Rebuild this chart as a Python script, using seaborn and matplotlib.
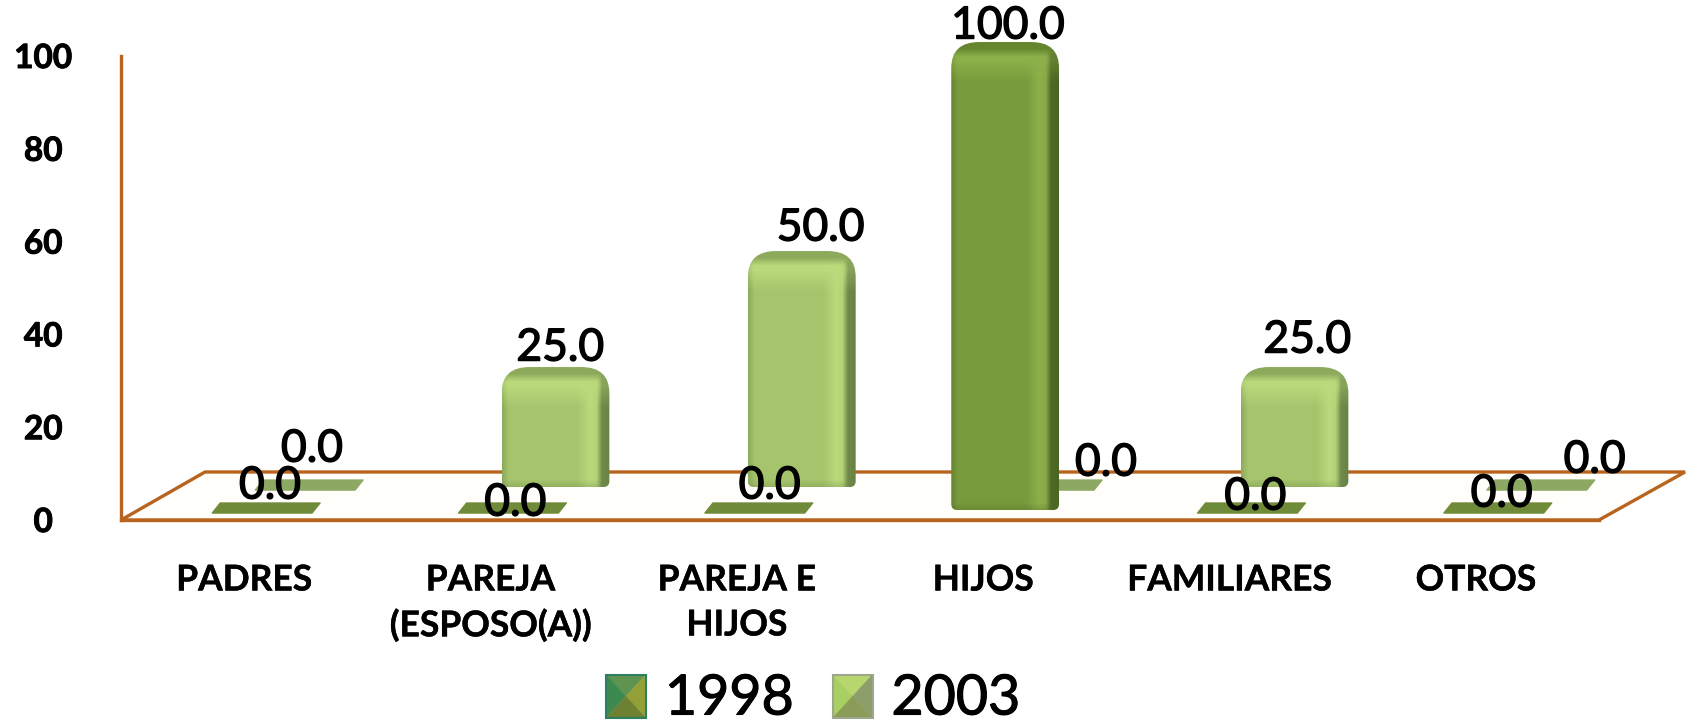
#!/usr/bin/env python3

import numpy as np
import pandas
import seaborn as sns
import matplotlib

matplotlib.use("Agg")
import matplotlib.pyplot as plt
import matplotlib.patheffects as pe
from matplotlib.colors import to_rgb
from matplotlib.legend_handler import HandlerBase
from matplotlib.patches import Patch, PathPatch, Polygon
from matplotlib.path import Path

categories = ["PADRES", "PAREJA\n(ESPOSO(A))", "PAREJA E\nHIJOS", "HIJOS", "FAMILIARES", "OTROS"]
values_1998 = [0.0, 0.0, 0.0, 100.0, 0.0, 0.0]
values_2003 = [0.0, 25.0, 50.0, 0.0, 25.0, 0.0]
years = ["1998", "2003"]
y_ticks = [0, 20, 40, 60, 80, 100]

FIG_W, FIG_H = 1691, 724
AX_L, AX_R, AX_TOP, AX_BOT = 121, 1599, 56, 520
PX_X = (AX_R - AX_L) / 6
PX_Y = (AX_BOT - AX_TOP) / 100
LINE = "#B8631E"

# Fake 3D depth: each series is pushed along the floor (dx in categories, dy in data)
SHIFT = {"1998": (0.308, 2.15), "2003": (0.045, 7.1)}
SHADES = {
    "1998": dict(base="#789A3C", light="#8DB04A", dark="#4F6A26", cap="#66852F", flat="#6F8A38"),
    "2003": dict(base="#A6C46C", light="#BBDA7C", dark="#6F8A4A", cap="#8CAA5C", flat="#8CA862"),
}
# Label nudges in pixels from the top of each bar (right, up)
NUDGE = {
    "1998": [(4, 24), (3, 7), (11, 24), (3, 20), (4, 13), (4, 16)],
    "2003": [(3, 38), (5, 23), (19, 27), (58, 24), (13, 31), (54, 27)],
}
PYRAMIDS = {
    "1998": ["#5F9450", "#3C8A50", "#93A038", "#6E8032", "#2E7F60"],
    "2003": ["#B8D66E", "#A9CE62", "#8E9E6A", "#8B9C58", "#9CA88C"],
}


def heavy(width):
    return [pe.withStroke(linewidth=width, foreground="black")]


class PyramidHandler(HandlerBase):
    """
    Legend key drawn as a small bevelled square
    """

    def __init__(self, colors):
        super().__init__()
        self.colors = colors

    def create_artists(self, legend, orig_handle, xdescent, ydescent, width, height, fontsize, trans):
        x0, y0, x1, y1 = -xdescent, -ydescent - 4, width - xdescent, height - ydescent + 2
        cx, cy = (x0 + x1) / 2, (y0 + y1) / 2
        faces = [
            [(x0, y1), (x1, y1), (cx, cy)],
            [(x0, y0), (x0, y1), (cx, cy)],
            [(x1, y0), (x1, y1), (cx, cy)],
            [(x0, y0), (x1, y0), (cx, cy)],
        ]
        artists = [Polygon(f, closed=True, fc=c, ec=c, lw=0.3, transform=trans) for f, c in zip(faces, self.colors)]
        border = Polygon([(x0, y0), (x1, y0), (x1, y1), (x0, y1)], closed=True, fc="none", ec=self.colors[4], lw=1.5, transform=trans)
        return artists + [border]


def shaded_image(width, height, shade):
    """
    Build the bevelled RGB face of a bar
    """
    base, light, dark, cap = [np.array(to_rgb(shade[k])) for k in ("base", "light", "dark", "cap")]
    xs = np.linspace(0, 1, width)
    stops = [0, 0.06, 0.70, 0.82, 0.88, 0.93, 1]
    stop_colors = [cap, base, base, light, light * 0.96, dark, dark * 0.95]
    across = np.stack([np.interp(xs, stops, [c[i] for c in stop_colors]) for i in range(3)], axis=1)
    img = np.repeat(across[None, :, :], height, axis=0)

    ys = np.arange(height)
    # soft light band under the top, fading into the side bevels
    fade = np.interp(xs, [0, 0.06, 0.85, 0.93], [0.6, 1, 1, 0.35])[None, :, None]
    glow = np.interp(ys, [8, 18, 24, 40], [0.9, 1, 0.7, 0])[:, None, None] * fade
    img = img * (1 - glow) + light * glow
    top = np.interp(ys, [0, 6, 14], [1, 1, 0])[:, None, None]
    img = img * (1 - top) + cap * top
    bottom = np.interp(ys, [height - 8, height - 1], [0, 0.3])[:, None, None]
    return img * (1 - bottom) + dark * bottom


def bar_outline(x0, x1, y0, y1):
    """
    Rounded outline in data units, big radius on top and small one at the base
    """
    rx, ry = 28 / PX_X, 26 / PX_Y
    sx, sy = 6 / PX_X, 6 / PX_Y
    verts = [
        (x0 + sx, y0), (x1 - sx, y0), (x1, y0), (x1, y0 + sy),
        (x1, y1 - ry), (x1, y1), (x1 - rx, y1),
        (x0 + rx, y1), (x0, y1), (x0, y1 - ry),
        (x0, y0 + sy), (x0, y0), (x0 + sx, y0),
    ]
    codes = [Path.MOVETO, Path.LINETO, Path.CURVE3, Path.CURVE3,
             Path.LINETO, Path.CURVE3, Path.CURVE3,
             Path.LINETO, Path.CURVE3, Path.CURVE3,
             Path.LINETO, Path.CURVE3, Path.CURVE3]
    return Path(verts, codes)


def draw_bar(ax, fig, x0, x1, y0, y1, shade, zorder):
    """
    Replace a seaborn bar by a rounded, shaded face
    """
    y1 = y1 + 4 / PX_Y
    width = int(round((x1 - x0) * PX_X))
    height = int(round((y1 - y0) * PX_Y))
    im = ax.imshow(
        shaded_image(width, height, shade), extent=(x0, x1, y0, y1), aspect="auto",
        interpolation="bilinear", zorder=zorder,
    )
    clip = PathPatch(bar_outline(x0, x1, y0, y1), transform=ax.transData)
    im.set_clip_path(clip)
    im.set_clip_box(fig.bbox)


def draw_flat(ax, x0, x1, y0, shade, zorder):
    """
    A zero value is only a thin plate lying on the floor
    """
    skew = 8 / PX_X
    low, high = y0 - 3 / PX_Y, y0 + 7 / PX_Y
    ax.add_patch(Polygon(
        [(x0, low), (x1 - skew, low), (x1, high), (x0 + skew, high)], closed=True,
        fc=shade["flat"], ec=shade["flat"], lw=1, joinstyle="round", zorder=zorder,
    ))


def main():
    df = pandas.DataFrame({
        "categoria": categories * 2,
        "valor": values_1998 + values_2003,
        "anio": [years[0]] * 6 + [years[1]] * 6,
    })

    sns.set_theme(style="white")
    plt.rcParams["font.family"] = ["Lato", "DejaVu Sans"]

    fig = plt.figure(figsize=(FIG_W / 100, FIG_H / 100), dpi=100)
    ax = fig.add_axes([
        AX_L / FIG_W, 1 - AX_BOT / FIG_H, (AX_R - AX_L) / FIG_W, (AX_BOT - AX_TOP) / FIG_H,
    ])
    sns.barplot(
        data=df, x="categoria", y="valor", hue="anio", hue_order=years,
        palette=[SHADES[y]["base"] for y in years], width=0.875, legend=False, ax=ax,
    )
    ax.set_xlim(-0.5, 5.5)
    ax.set_ylim(0, 100)
    ax.set_autoscale_on(False)
    ax.set_xlabel("")
    ax.set_ylabel("")

    # The floor and its back edge, in axes fractions
    back_l, back_r, back_y = 84 / (AX_R - AX_L), 1 + 86 / (AX_R - AX_L), 48 / (AX_BOT - AX_TOP)
    ax.add_patch(Polygon(
        [(0, 0), (1, 0), (back_r, back_y), (back_l, back_y)], closed=True, transform=ax.transAxes,
        fc="#FFFEFA", ec=LINE, lw=2.4, joinstyle="miter", clip_on=False, zorder=0.5,
    ))

    # 2003 sits behind 1998
    for year, container, order in zip(years, ax.containers, (3, 2)):
        dx, dy = SHIFT[year]
        for i, bar in enumerate(container.patches):
            bar.set_visible(False)
            x0, x1 = bar.get_x() + dx, bar.get_x() + bar.get_width() + dx
            value = bar.get_height()
            if value > 0:
                draw_bar(ax, fig, x0, x1, dy, value + dy, SHADES[year], order)
            else:
                draw_flat(ax, x0, x1, dy, SHADES[year], order)
            right, up = NUDGE[year][i]
            ax.annotate(
                f"{value:.1f}", xy=((x0 + x1) / 2, value + dy), xytext=(right, up),
                textcoords="offset pixels", ha="center", va="center", fontsize=32,
                color="black", annotation_clip=False, zorder=6, path_effects=heavy(1.0),
            )

    sns.despine(ax=ax, top=True, right=True)
    for side in ("left", "bottom"):
        ax.spines[side].set_color(LINE)
        ax.spines[side].set_linewidth(2.4)
        ax.spines[side].set_zorder(1)

    ax.set_yticks(y_ticks)
    ax.set_yticklabels(
        [str(t) for t in y_ticks], fontsize=24, fontweight="bold", color="black", ha="center",
        path_effects=heavy(0.7),
    )
    ax.tick_params(axis="y", length=0, pad=56)
    ax.set_xticks(range(len(categories)))
    ax.set_xticklabels(
        categories, fontsize=25.5, fontweight="bold", color="black", linespacing=1.5,
        path_effects=heavy(0.3),
    )
    ax.tick_params(axis="x", length=0, pad=32)

    handles = [Patch(color=SHADES[y]["base"], label=y) for y in years]
    legend = fig.legend(
        handles=handles, loc="center", bbox_to_anchor=(813 / FIG_W, 1 - 699 / FIG_H), ncol=2,
        frameon=False, fontsize=40, handlelength=0.72, handleheight=0.6, handletextpad=0.34,
        columnspacing=0.7, borderpad=0, borderaxespad=0,
        handler_map={h: PyramidHandler(PYRAMIDS[h.get_label()]) for h in handles},
    )
    for text in legend.get_texts():
        text.set_color("black")
        text.set_path_effects(heavy(0.8))

    fig.savefig("out.png", dpi=100)
    plt.close(fig)


if __name__ == "__main__":
    main()
